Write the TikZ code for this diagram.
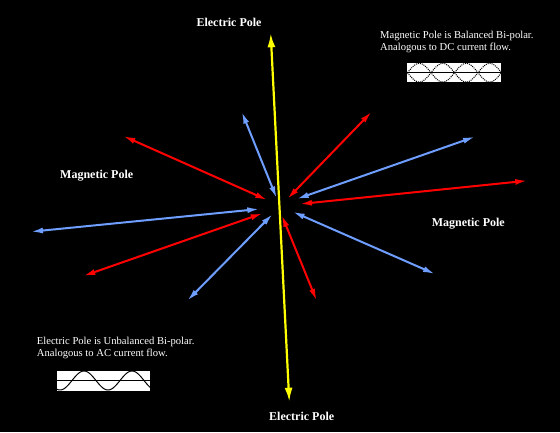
\documentclass[tikz,border=0pt]{standalone}
\usepackage{fontspec}
\setmainfont{Liberation Serif}
\usetikzlibrary{arrows.meta}
\definecolor{magblue}{RGB}{110,158,255}
\definecolor{elecred}{RGB}{255,0,0}
\definecolor{elecyel}{RGB}{255,255,0}

\begin{document}
\begin{tikzpicture}[
  x=1pt, y=-1pt,
  pole/.style   ={font=\fontsize{12}{14}\selectfont\bfseries, text=white,
                  inner sep=0pt},
  note/.style   ={font=\fontsize{10.6}{12.3}\selectfont, text=white, align=left,
                  inner sep=0pt, anchor=west},
  wavebox/.style={draw=black, fill=white, line width=0.6pt, inner sep=0pt},
  dbl/.style    ={{Latex[length=12pt,width=6pt]}-{Latex[length=12pt,width=6pt]},
                  line width=2pt},
  axis/.style   ={{Latex[length=14pt,width=8pt]}-{Latex[length=14pt,width=8pt]},
                  line width=2.2pt, draw=elecyel},
]
\fill[black] (0,0) rectangle (560,432);
\useasboundingbox (0,0) rectangle (560,432);

% end points of the rays
\coordinate (b1a) at (241.7,111.7); \coordinate (b1b) at (276.7,198.3);
\coordinate (b2a) at (475,136.7);   \coordinate (b2b) at (296.7,199);
\coordinate (b3a) at (31,231.7);    \coordinate (b3b) at (259.3,209);
\coordinate (b4a) at (187.3,300.7); \coordinate (b4b) at (272.7,214);
\coordinate (b5a) at (435,274);     \coordinate (b5b) at (292.7,211.7);
\coordinate (r1a) at (123.3,136);   \coordinate (r1b) at (267.3,200);
\coordinate (r2a) at (371.7,111.7); \coordinate (r2b) at (287.3,199);
\coordinate (r3a) at (527.3,180.7); \coordinate (r3b) at (300,204);
\coordinate (r4a) at (83.3,276);    \coordinate (r4b) at (262.7,213.3);
\coordinate (r5a) at (316.7,300.7); \coordinate (r5b) at (281.7,215);
\coordinate (eN) at (270.7,33.3);   \coordinate (eS) at (289.3,401.7);

\foreach \r in {b1,b2,b3,b4,b5} \draw[dbl, draw=magblue, fill=magblue] (\r a) -- (\r b);
\foreach \r in {r1,r2,r3,r4,r5} \draw[dbl, draw=elecred, fill=elecred] (\r a) -- (\r b);
\draw[axis, fill=elecyel] (eN) -- (eS);

\node[pole] (eTop)   at (229,22)      {Electric Pole};
\node[pole] (eBot)   at (301.7,416.7) {Electric Pole};
\node[pole] (mLeft)  at (96.7,176)    {Magnetic Pole};
\node[pole] (mRight) at (468.3,224)   {Magnetic Pole};

\node[note] (dcNote) at (380,42.3)
  {Magnetic Pole is Balanced Bi-polar.\\Analogous to DC current flow.};
\node[note] (acNote) at (36.7,348)
  {Electric Pole is Unbalanced Bi-polar.\\Analogous to AC current flow.};

% DC: two waves in opposite phase
\node[wavebox, minimum width=95.5pt, minimum height=20pt] (dcBox) at (453.9,72.7) {};
\draw[line width=1pt] (dcBox.west) -- (dcBox.east);
\draw[densely dotted, line width=1pt] plot[domain=0:94, samples=100]
  ({407.5+\x},{72.7+9.3*sin(\x/23.5*180)});
\draw[densely dotted, line width=1pt] plot[domain=0:94, samples=100]
  ({407.5+\x},{72.7-9.3*sin(\x/23.5*180)});

% AC: one wave
\node[wavebox, minimum width=94pt, minimum height=21pt] (acBox) at (103.7,380.5) {};
\draw[line width=1pt] (acBox.west) -- (acBox.east);
\draw[line width=1pt] plot[domain=56.7:150.7, samples=100]
  (\x,{380.5+9.5*cos((\x-60)/24*180)});
\end{tikzpicture}
\end{document}
